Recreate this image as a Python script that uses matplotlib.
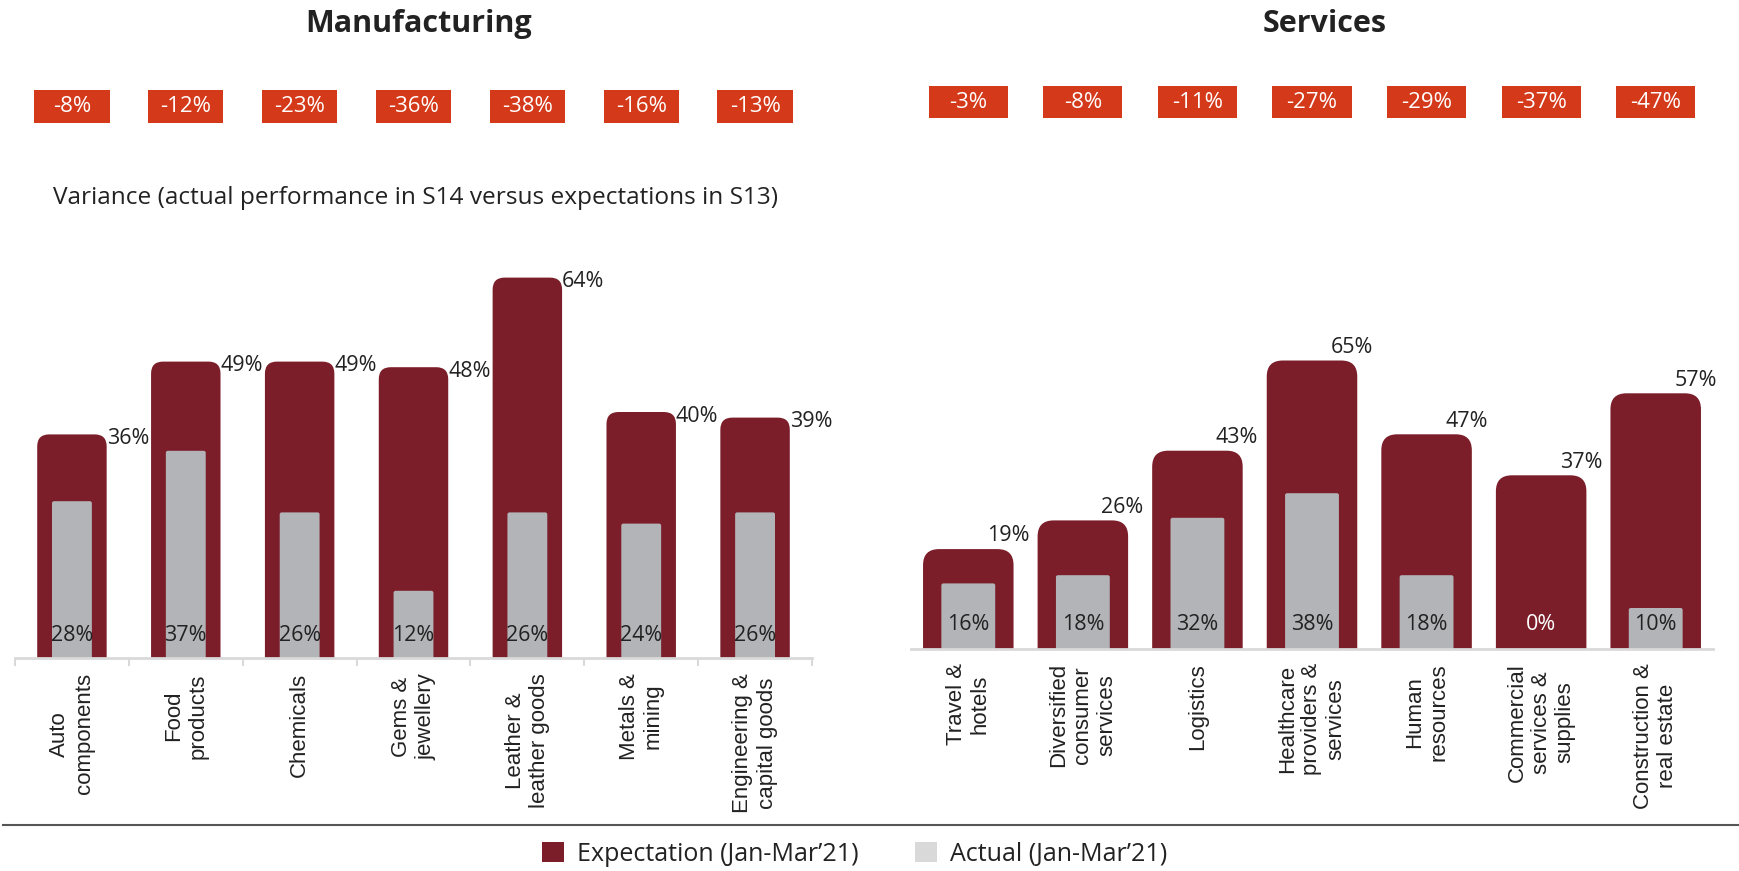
import matplotlib
matplotlib.use('Agg')
import matplotlib.pyplot as plt
from matplotlib.patches import FancyBboxPatch, Rectangle, Patch
from matplotlib.lines import Line2D
from matplotlib.transforms import blended_transform_factory

# data
manu_cats = ['Auto\ncomponents', 'Food\nproducts', 'Chemicals', 'Gems &\njewellery',
             'Leather &\nleather goods', 'Metals &\nmining', 'Engineering &\ncapital goods']
manu_expect = [36, 49, 49, 48, 64, 40, 39]
manu_actual = [28, 37, 26, 12, 26, 24, 26]
manu_variance = [-8, -12, -23, -36, -38, -16, -13]

serv_cats = ['Travel &\nhotels', 'Diversified\nconsumer\nservices', 'Logistics',
             'Healthcare\nproviders &\nservices', 'Human\nresources',
             'Commercial\nservices &\nsupplies', 'Construction &\nreal estate']
serv_expect = [19, 26, 43, 65, 47, 37, 57]
serv_actual = [16, 18, 32, 38, 18, 0, 10]
serv_variance = [-3, -8, -11, -27, -29, -37, -47]

legend_labels = ['Expectation (Jan-Mar\u201921)', 'Actual (Jan-Mar\u201921)']
subtitle = 'Variance (actual performance in S14 versus expectations in S13)'

DARK = '#7B1E2A'
GREY = '#B3B4B8'
LIGHT = '#D9D9D9'
BOX = '#D4391A'
INK = '#222222'
TXT = 'Open Sans'
LAB = 'Liberation Sans'

W, H = 1739, 871
fig = plt.figure(figsize=(W / 100, H / 100), dpi=100)


def make_axes(x0, x1, base, px_per_unit, ymax):
    # axes placed from pixel measurements (origin top-left)
    ax = fig.add_axes([x0 / W, (H - base) / H, (x1 - x0) / W, px_per_unit * ymax / H])
    ax.set_xlim(-0.5, 6.5)
    ax.set_ylim(0, ymax)
    for s in ['left', 'right', 'top']:
        ax.spines[s].set_visible(False)
    ax.spines['bottom'].set_color(LIGHT)
    ax.spines['bottom'].set_linewidth(2)
    ax.spines['bottom'].set_zorder(5)
    ax.set_yticks([])
    return ax


def rounded_bar(ax, x, value, width, r_px, cap_px, color, z):
    x0, x1 = ax.get_xlim()
    y0, y1 = ax.get_ylim()
    sx = ax.bbox.width / (x1 - x0)
    sy = ax.bbox.height / (y1 - y0)
    cap = cap_px / sy
    below = 2 * r_px / sy
    p = FancyBboxPatch((x - width / 2, -below), width, value + cap + below,
                       boxstyle='round,pad=0,rounding_size=%f' % (r_px / sx),
                       mutation_aspect=sx / sy, fc=color, ec='none', zorder=z)
    ax.add_patch(p)
    return value + cap


def variance_boxes(ax, values, y_px, w, h_px):
    tr = blended_transform_factory(ax.transData, fig.transFigure)
    for i, v in enumerate(values):
        fig.add_artist(Rectangle((i - w / 2, 1 - (y_px + h_px / 2) / H), w, h_px / H,
                                 transform=tr, fc=BOX, ec='none'))
        fig.text(i, 1 - y_px / H, '%d%%' % v, transform=tr, ha='center', va='center',
                 color='white', fontsize=16, family=TXT)


def panel(ax, cats, expect, actual, bw, gw, r_px, label_off, base_off, pad):
    for i, (e, a) in enumerate(zip(expect, actual)):
        top = rounded_bar(ax, i, e, bw, r_px, 22, DARK, 2)
        rounded_bar(ax, i, a, gw, 2, 0, GREY, 3)
        ax.annotate('%d%%' % e, xy=(i + bw / 2, top), xytext=label_off[0],
                    textcoords='offset points', ha=label_off[1], va='center',
                    fontsize=15.5, family=TXT, color=INK, annotation_clip=False)
        ax.annotate('%d%%' % a, xy=(i, 0), xytext=(0, base_off),
                    textcoords='offset points', ha='center', va='center',
                    fontsize=15.5, family=TXT, color='white' if a == 0 else INK, zorder=6)
    ax.set_xticks(range(len(cats)), cats, rotation=90, ha='center', va='top',
                  multialignment='center', fontsize=16, family=LAB, color=INK)
    ax.tick_params(axis='x', which='major', length=0, pad=pad)


# Manufacturing
ax1 = make_axes(15, 812, 658, 5.6, 70)
panel(ax1, manu_cats, manu_expect, manu_actual, 0.61, 0.35, 12,
      ((0, -3), 'left'), 16.5, 11)
ax1.set_xticks([i - 0.5 for i in range(8)], minor=True)
ax1.tick_params(axis='x', which='minor', length=6, width=1.5, color=LIGHT)
variance_boxes(ax1, manu_variance, 106.5, 0.66, 33)

# Services
ax2 = make_axes(911, 1713, 649, 4.1, 80)
panel(ax2, serv_cats, serv_expect, serv_actual, 0.79, 0.47, 16,
      ((-4, 9.5), 'center'), 17.3, 10)
variance_boxes(ax2, serv_variance, 102.5, 0.69, 32)

# titles
fig.text(419 / W, 1 - 32 / H, 'Manufacturing', ha='center', va='baseline',
         fontsize=22, fontweight='bold', family=TXT, color=INK)
fig.text(1325 / W, 1 - 32 / H, 'Services', ha='center', va='baseline',
         fontsize=22, fontweight='bold', family=TXT, color=INK)
fig.text(53 / W, 1 - 204 / H, subtitle, ha='left', va='baseline',
         fontsize=17.6, family=TXT, color=INK)

# bottom rule and legend
fig.add_artist(Line2D([0.002, 1], [1 - 825 / H] * 2, color='#555555', lw=1.5))
handles = [Patch(fc=DARK, ec='none'), Patch(fc=LIGHT, ec='none')]
fig.legend(handles, legend_labels, loc='center', bbox_to_anchor=(855 / W, 1 - 854 / H),
           ncol=2, frameon=False, prop={'family': TXT, 'size': 18}, labelcolor=INK,
           handlelength=0.88, handleheight=0.84, handletextpad=0.52,
           columnspacing=2.26, borderaxespad=0, borderpad=0)

fig.savefig('out.png', dpi=100)
